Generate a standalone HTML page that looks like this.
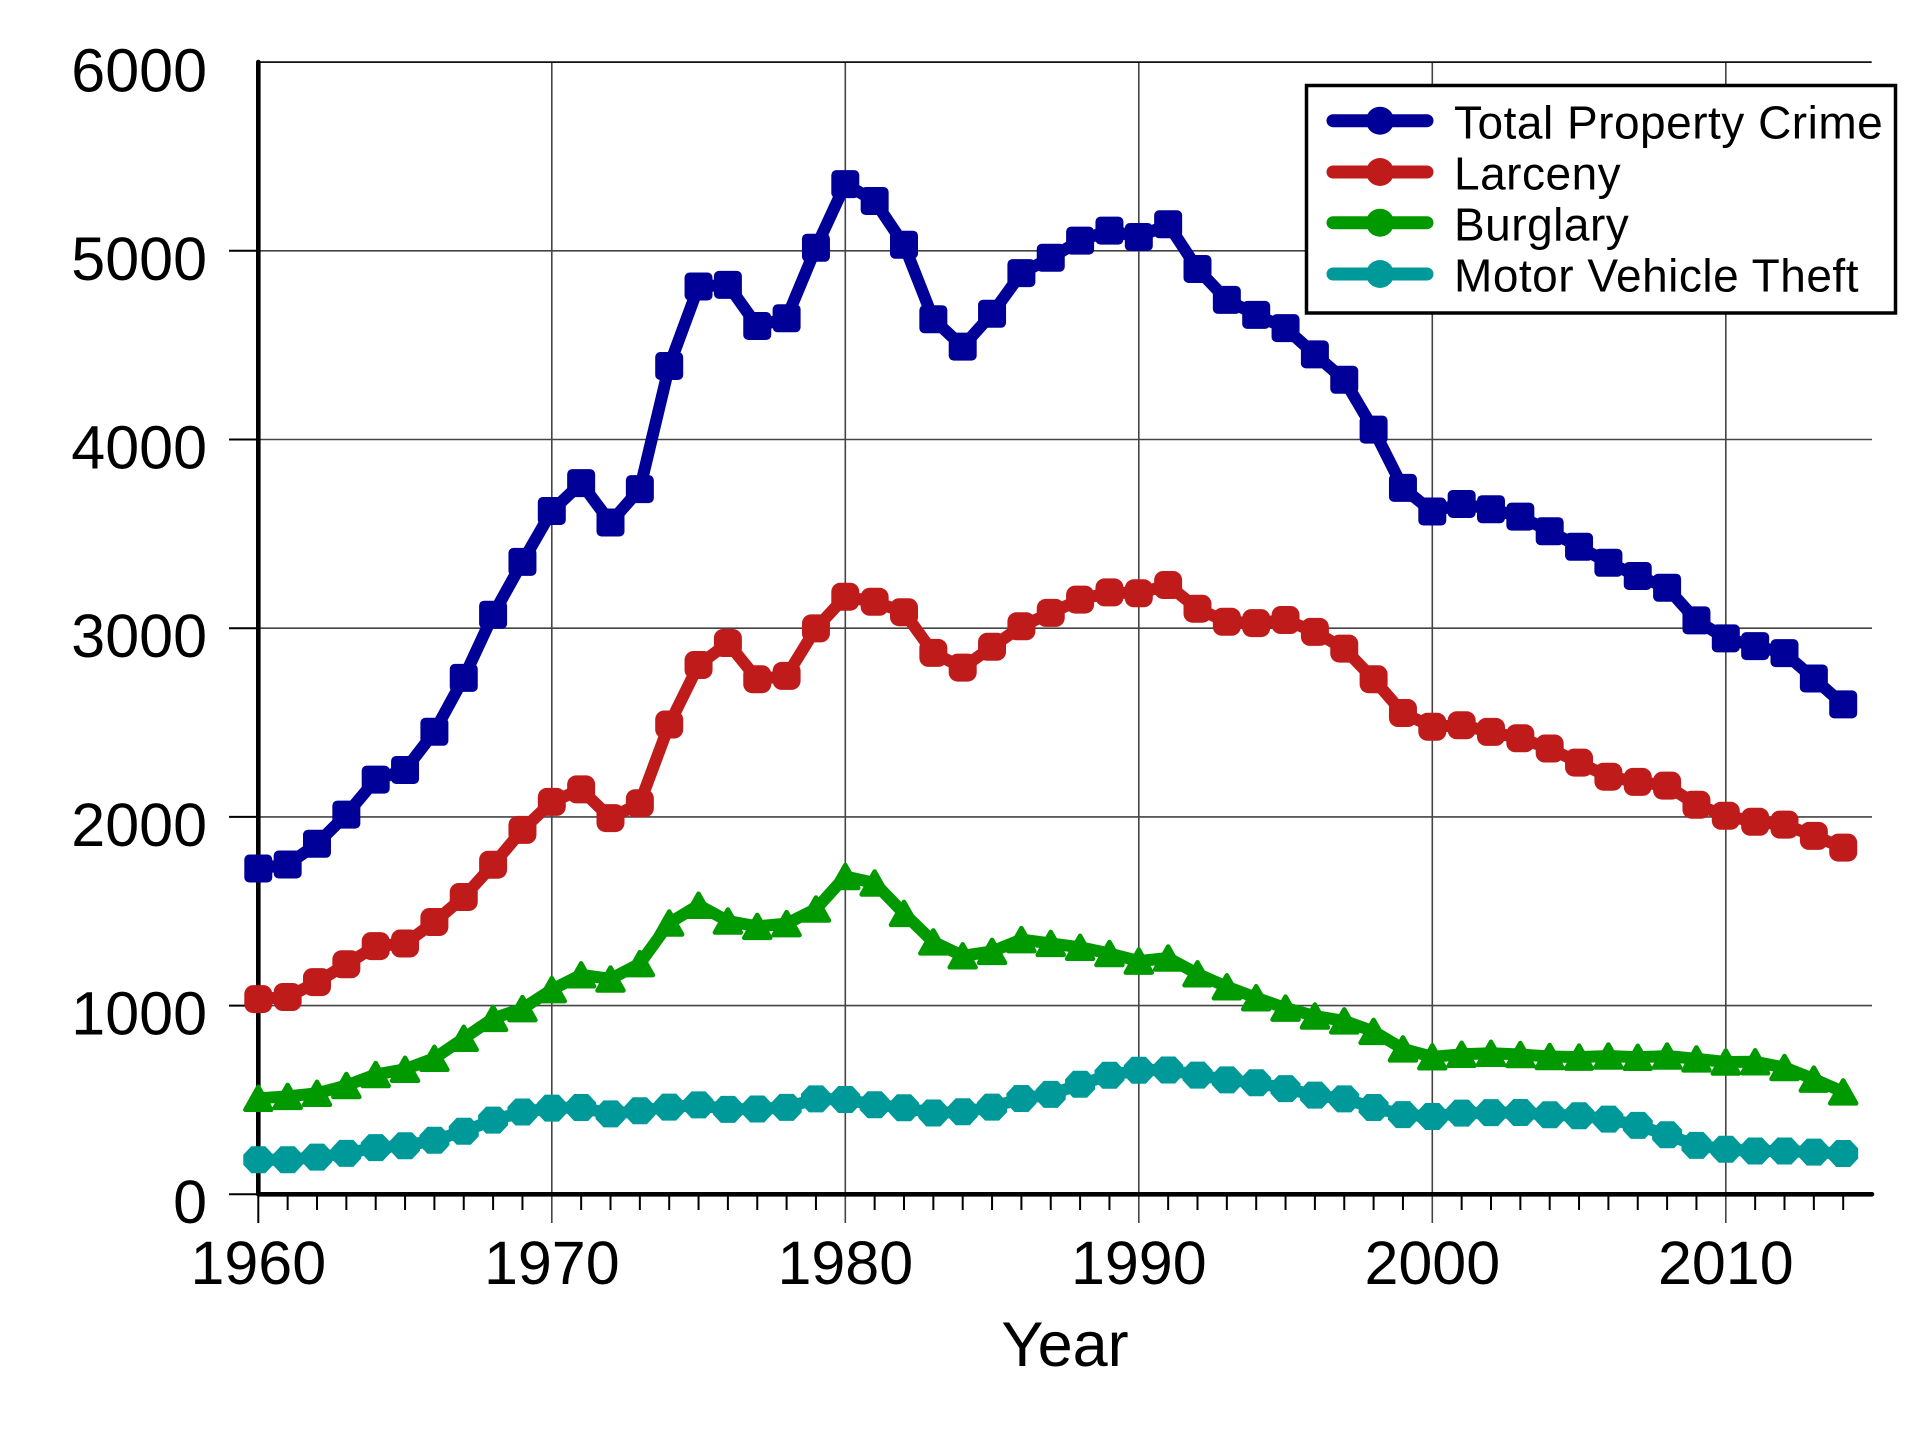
<!DOCTYPE html>
<html>
<head>
<meta charset="utf-8">
<style>
html,body{margin:0;padding:0;background:#fff;}
svg{display:block;}
text{font-family:"Liberation Sans",Arial,sans-serif;fill:#000;}
</style>
</head>
<body>
<svg width="1920" height="1434" viewBox="0 0 1920 1434" xmlns="http://www.w3.org/2000/svg">
<defs>
  <marker id="mB" markerUnits="userSpaceOnUse" viewBox="-16 -16 32 32" markerWidth="32" markerHeight="32" refX="0" refY="0" overflow="visible">
    <rect x="-14" y="-14" width="28" height="28" rx="5" fill="#000099"/>
  </marker>
  <marker id="mR" markerUnits="userSpaceOnUse" viewBox="-16 -16 32 32" markerWidth="32" markerHeight="32" refX="0" refY="0" overflow="visible">
    <rect x="-14" y="-14" width="28" height="28" rx="9" fill="#bf1b1b"/>
  </marker>
  <marker id="mG" markerUnits="userSpaceOnUse" viewBox="-16 -16 32 32" markerWidth="32" markerHeight="32" refX="0" refY="0" overflow="visible">
    <polygon points="0,-11.5 13,11.5 -13,11.5" fill="#009900" stroke="#009900" stroke-width="4.5" stroke-linejoin="round"/>
  </marker>
  <marker id="mC" markerUnits="userSpaceOnUse" viewBox="-16 -16 32 32" markerWidth="32" markerHeight="32" refX="0" refY="0" overflow="visible">
    <polygon points="-7,-13.5 7,-13.5 15,-5 15,5 7,13.5 -7,13.5 -15,5 -15,-5" fill="#009999"/>
  </marker>
</defs>

<!-- grid lines -->
<g stroke="#444" stroke-width="1.6" fill="none">
  <path d="M258 1005.6H1872M258 816.9H1872M258 628.2H1872M258 439.5H1872M258 250.8H1872"/>
  <path d="M551.8 62V1223M845.3 62V1223M1138.8 62V1223M1432.3 62V1223M1725.8 62V1223"/>
</g>
<path d="M258 62.1H1871.7" stroke="#111" stroke-width="1.8"/>

<!-- y ticks -->
<path d="M229 1194.3H258M229 1005.6H258M229 816.9H258M229 628.2H258M229 439.5H258M229 250.8H258" stroke="#000" stroke-width="2"/>

<!-- x ticks -->
<path d="M258.3 1194V1223" stroke="#000" stroke-width="2"/>
<path stroke="#000" stroke-width="2" d="M287.65 1194V1210M317 1194V1210M346.35 1194V1210M375.7 1194V1210M405.05 1194V1210M434.4 1194V1210M463.75 1194V1210M493.1 1194V1210M522.45 1194V1210M581.15 1194V1210M610.5 1194V1210M639.85 1194V1210M669.2 1194V1210M698.55 1194V1210M727.9 1194V1210M757.25 1194V1210M786.6 1194V1210M815.95 1194V1210M874.65 1194V1210M904 1194V1210M933.35 1194V1210M962.7 1194V1210M992.05 1194V1210M1021.4 1194V1210M1050.75 1194V1210M1080.1 1194V1210M1109.45 1194V1210M1168.15 1194V1210M1197.5 1194V1210M1226.85 1194V1210M1256.2 1194V1210M1285.55 1194V1210M1314.9 1194V1210M1344.25 1194V1210M1373.6 1194V1210M1402.95 1194V1210M1461.65 1194V1210M1491 1194V1210M1520.35 1194V1210M1549.7 1194V1210M1579.05 1194V1210M1608.4 1194V1210M1637.75 1194V1210M1667.1 1194V1210M1696.45 1194V1210M1755.15 1194V1210M1784.5 1194V1210M1813.85 1194V1210M1843.2 1194V1210"/>

<!-- axes -->
<path d="M258.3 62V1194.3H1872" fill="none" stroke="#000" stroke-width="4.6" stroke-linecap="round" stroke-linejoin="round"/>

<!-- y labels -->
<g font-size="61" text-anchor="end">
  <text x="207" y="1223">0</text>
  <text x="207" y="1034.6">1000</text>
  <text x="207" y="845.9">2000</text>
  <text x="207" y="657.2">3000</text>
  <text x="207" y="468.5">4000</text>
  <text x="207" y="279.8">5000</text>
  <text x="207" y="91.5">6000</text>
</g>

<!-- x labels -->
<g font-size="61" text-anchor="middle">
  <text x="258.3" y="1284">1960</text>
  <text x="551.8" y="1284">1970</text>
  <text x="845.3" y="1284">1980</text>
  <text x="1138.8" y="1284">1990</text>
  <text x="1432.3" y="1284">2000</text>
  <text x="1725.8" y="1284">2010</text>
</g>
<text x="1065" y="1366" font-size="63" text-anchor="middle">Year</text>

<!-- series -->
<g fill="none" stroke-width="12" stroke-linejoin="round" stroke-linecap="round">
<polyline stroke="#000099" marker-start="url(#mB)" marker-mid="url(#mB)" marker-end="url(#mB)" points="258.3,868.5 287.65,864.5 317,843.8 346.35,814.6 375.7,779.6 405.05,770 434.4,731.8 463.75,677.9 493.1,614.7 522.45,561.9 551.8,511 581.15,483.1 610.5,522.5 639.85,489.1 669.2,366 698.55,286.5 727.9,284.9 757.25,326 786.6,318.3 815.95,247.7 845.3,184.1 874.65,201 904,244.7 933.35,319.2 962.7,346.6 992.05,313.8 1021.4,273.1 1050.75,257.8 1080.1,240.6 1109.45,230.6 1138.8,237 1168.15,224.3 1197.5,269 1226.85,299.9 1256.2,314.9 1285.55,328.1 1314.9,354.4 1344.25,379.8 1373.6,429.6 1402.95,487.9 1432.3,511.5 1461.65,504 1491,509.2 1520.35,516.6 1549.7,531.2 1579.05,546.8 1608.4,562.8 1637.75,576 1667.1,587.7 1696.45,620.4 1725.8,638.4 1755.15,646.1 1784.5,653.1 1813.85,678.5 1843.2,704.4"/>
<polyline stroke="#bf1b1b" marker-start="url(#mR)" marker-mid="url(#mR)" marker-end="url(#mR)" points="258.3,999.1 287.65,997 317,982.1 346.35,964.3 375.7,946.1 405.05,943.5 434.4,922 463.75,897 493.1,864.7 522.45,829.9 551.8,801.9 581.15,789.4 610.5,818.1 639.85,803.3 669.2,724.5 698.55,665 727.9,643 757.25,679.2 786.6,675.9 815.95,628.4 845.3,596.7 874.65,601.8 904,612.2 933.35,652.9 962.7,667.6 992.05,646.8 1021.4,626.3 1050.75,612.9 1080.1,599.6 1109.45,592.4 1138.8,593.3 1168.15,585 1197.5,608.7 1226.85,621.8 1256.2,623.1 1285.55,620 1314.9,631.9 1344.25,648.6 1373.6,679.2 1402.95,713 1432.3,726.8 1461.65,725.3 1491,731.9 1520.35,738.3 1549.7,748.5 1579.05,762.6 1608.4,776.7 1637.75,781.9 1667.1,785.6 1696.45,804.7 1725.8,815.8 1755.15,821.8 1784.5,824.6 1813.85,835.9 1843.2,847.6"/>
<polyline stroke="#009900" marker-start="url(#mG)" marker-mid="url(#mG)" marker-end="url(#mG)" points="258.3,1098.3 287.65,1096.4 317,1093.3 346.35,1085.5 375.7,1074.5 405.05,1069.3 434.4,1058.3 463.75,1038.3 493.1,1018.4 522.45,1008.6 551.8,989.6 581.15,974.8 610.5,979 639.85,963.6 669.2,923 698.55,905.2 727.9,921 757.25,926.4 786.6,923.6 815.95,909 845.3,876.5 874.65,883 904,913.4 933.35,941.9 962.7,955.8 992.05,951.4 1021.4,939.6 1050.75,943.4 1080.1,947.3 1109.45,953.5 1138.8,961.1 1168.15,958 1197.5,973.8 1226.85,986.8 1256.2,997.7 1285.55,1008.1 1314.9,1016 1344.25,1020.9 1373.6,1031.4 1402.95,1048.9 1432.3,1056.8 1461.65,1054.3 1491,1053.3 1520.35,1054.5 1549.7,1056.5 1579.05,1057.1 1608.4,1056 1637.75,1057.3 1667.1,1056 1696.45,1058.9 1725.8,1062 1755.15,1061.8 1784.5,1067.5 1813.85,1079.1 1843.2,1091.9"/>
<polyline stroke="#009999" marker-start="url(#mC)" marker-mid="url(#mC)" marker-end="url(#mC)" points="258.3,1159.8 287.65,1159.7 317,1157.1 346.35,1153.4 375.7,1147.6 405.05,1145.8 434.4,1140.2 463.75,1131.3 493.1,1120.1 522.45,1112 551.8,1108.1 581.15,1107.5 610.5,1113.9 639.85,1110.8 669.2,1107.1 698.55,1104.9 727.9,1109.4 757.25,1109 786.6,1107.4 815.95,1098.9 845.3,1099.5 874.65,1104.7 904,1107.7 933.35,1113 962.7,1111.8 992.05,1107.1 1021.4,1098.5 1050.75,1094.4 1080.1,1084.3 1109.45,1075.3 1138.8,1070.2 1168.15,1070 1197.5,1075.1 1226.85,1079.9 1256.2,1082.7 1285.55,1088.6 1314.9,1095.1 1344.25,1098.9 1373.6,1107.5 1402.95,1114.6 1432.3,1116.5 1461.65,1113.1 1491,1112.6 1520.35,1112.5 1549.7,1114.8 1579.05,1115.7 1608.4,1119.1 1637.75,1125.4 1667.1,1134.8 1696.45,1145.4 1725.8,1149.2 1755.15,1151 1784.5,1151 1813.85,1152.1 1843.2,1153.5"/>
</g>

<!-- legend -->
<rect x="1306.5" y="85.5" width="589" height="227.5" fill="#fff" stroke="#000" stroke-width="3.5"/>
<g stroke-width="13" stroke-linecap="round">
  <line x1="1333" y1="120.7" x2="1427" y2="120.7" stroke="#000099"/>
  <line x1="1333" y1="172" x2="1427" y2="172" stroke="#bf1b1b"/>
  <line x1="1333" y1="222.7" x2="1427" y2="222.7" stroke="#009900"/>
  <line x1="1333" y1="274" x2="1427" y2="274" stroke="#009999"/>
</g>
<circle cx="1380" cy="120.7" r="14" fill="#000099"/>
<circle cx="1380" cy="172" r="14" fill="#bf1b1b"/>
<circle cx="1380" cy="222.7" r="14" fill="#009900"/>
<circle cx="1380" cy="274" r="14" fill="#009999"/>
<g font-size="46" letter-spacing="0.5">
  <text x="1454" y="138.3">Total Property Crime</text>
  <text x="1454" y="189.6">Larceny</text>
  <text x="1454" y="240.3">Burglary</text>
  <text x="1454" y="291.6">Motor Vehicle Theft</text>
</g>
</svg>
</body>
</html>
